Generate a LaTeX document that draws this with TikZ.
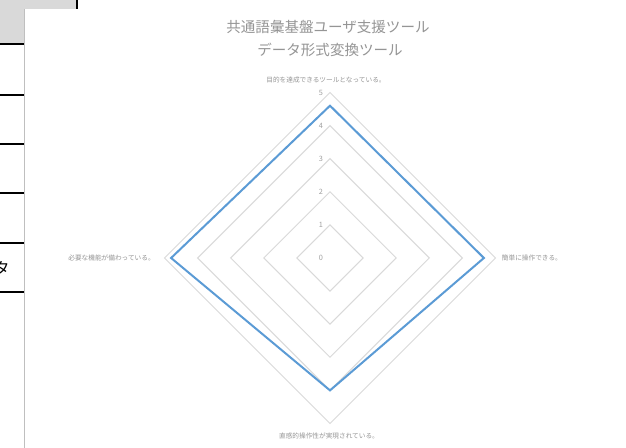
\documentclass[tikz,border=0pt]{standalone}
\usepackage{fontspec}
\usetikzlibrary{calc}
\newfontfamily\jpfont{Noto Sans CJK JP}
\definecolor{gridgray}{HTML}{D9D9D9}
\definecolor{cellgray}{HTML}{D9D9D9}
\definecolor{framegray}{HTML}{BFBFBF}
\definecolor{textgray}{HTML}{959595}
\definecolor{seriesblue}{HTML}{5B9BD5}
\begin{document}
\begin{tikzpicture}
		[	x=0.75pt,y=0.75pt,
		grid/.style={draw=gridgray,line width=0.75pt},
		series/.style={draw=seriesblue,line width=1.5pt,line join=miter},
		axislabel/.style={font=\jpfont\fontsize{5}{6}\selectfont,text=textgray,inner sep=0pt},
		ticklabel/.style={font=\jpfont\fontsize{5.5}{6}\selectfont,text=textgray!90,inner sep=0pt},
		title/.style={font=\jpfont\fontsize{10.9}{13}\selectfont,text=textgray,inner sep=0pt},
		cellrule/.style={draw=black,line width=1.5pt}
		]
		\useasboundingbox (0,0) rectangle (626,448);

% sheet behind the chart
\fill[cellgray] (0,448) rectangle (77,403.5);
\draw[cellrule] (77,448) -- (77,439);
\fill[white] (24.5,0) rectangle (626,439);
\draw[draw=framegray,line width=0.75pt] (24.5,0) -- (24.5,439);
\draw[cellrule] (0,403.5) -- (24,403.5);
\draw[cellrule] (0,353) -- (24,353);
\draw[cellrule] (0,304) -- (24,304);
\draw[cellrule] (0,255) -- (24,255);
\draw[cellrule] (0,205) -- (24,205);
\draw[cellrule] (0,156) -- (24,156);
\node[font=\jpfont\fontsize{12}{12}\selectfont,anchor=east,inner sep=0pt] (cell) at (10,180){タ};

% titles
\node[title] (title1) at (328,421){共通語彙基盤ユーザ支援ツール};
\node[title] (title2) at (330,398){データ形式変換ツール};

% radar grid
\coordinate (c) at (330,190);
		\draw[grid,shift={(c)}] (90:33.1) -- (0:33.1) -- (270:33.1) -- (180:33.1) -- cycle;
		\draw[grid,shift={(c)}] (90:66.2) -- (0:66.2) -- (270:66.2) -- (180:66.2) -- cycle;
		\draw[grid,shift={(c)}] (90:99.3) -- (0:99.3) -- (270:99.3) -- (180:99.3) -- cycle;
		\draw[grid,shift={(c)}] (90:132.4) -- (0:132.4) -- (270:132.4) -- (180:132.4) -- cycle;
		\draw[grid,shift={(c)}] (90:165.5) -- (0:165.5) -- (270:165.5) -- (180:165.5) -- cycle;

\node[ticklabel] (t0) at (321,190){0};
\node[ticklabel] (t1) at (321,223.1){1};
\node[ticklabel] (t2) at (321,256.2){2};
\node[ticklabel] (t3) at (321,289.3){3};
\node[ticklabel] (t4) at (321,322.4){4};
\node[ticklabel] (t5) at (321,355.5){5};

% axis labels
\node[axislabel] (goal) at (326,368){目的を達成できるツールとなっている。};
\node[axislabel,anchor=west] (easy) at (501.7,190){簡単に操作できる。};
\node[axislabel] (intuit) at (329,12.3){直感的操作性が実現されている。};
\node[axislabel,anchor=east] (func) at (155,190){必要な機能が備わっている。};

% values
\coordinate (vgoal) at ($(c)+(90:152.3)$);
\coordinate (veasy) at ($(c)+(0:153.9)$);
\coordinate (vintuit) at ($(c)+(270:132.4)$);
\coordinate (vfunc) at ($(c)+(180:158.9)$);
		\draw[series] (vgoal) -- (veasy) -- (vintuit) -- (vfunc) -- cycle;
	\end{tikzpicture}
\end{document}
